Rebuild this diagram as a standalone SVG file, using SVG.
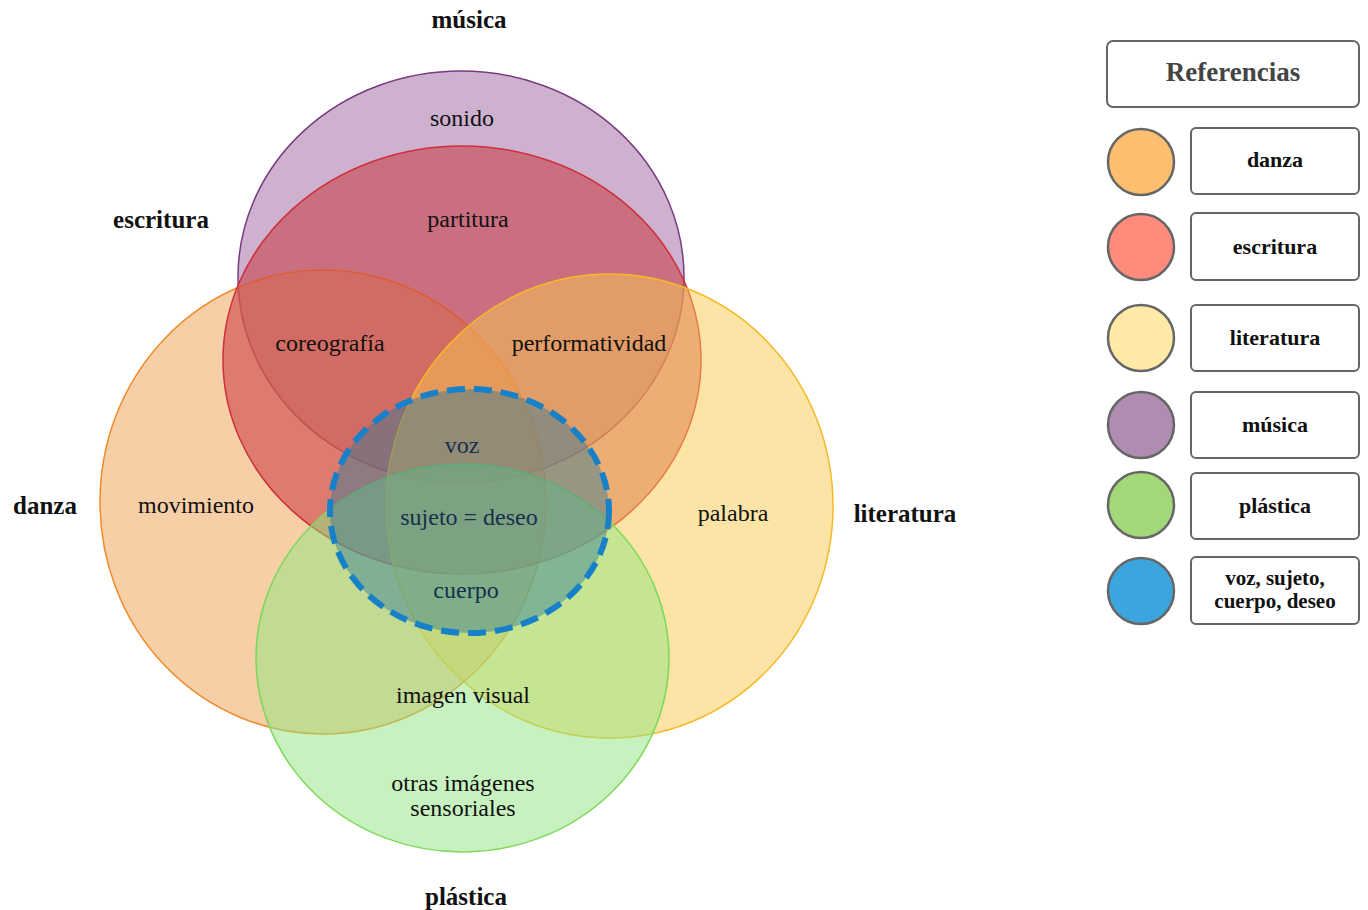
<svg xmlns="http://www.w3.org/2000/svg" width="1368" height="910" viewBox="0 0 1368 910">
<style>
.t{font-family:"Liberation Serif",serif;font-size:24px;fill:#111;text-anchor:middle;dominant-baseline:central}
.b{font-family:"Liberation Serif",serif;font-size:25px;font-weight:bold;fill:#111;text-anchor:middle;dominant-baseline:central}
.in{fill:#16304e}
.lg{font-family:"Liberation Serif",serif;font-size:22px;font-weight:bold;fill:#111;text-anchor:middle;dominant-baseline:central}
.box{fill:#fff;stroke:#666;stroke-width:2}
.dot{stroke:#666;stroke-width:2.5}
.e{stroke-width:1.5}
</style>
<rect width="1368" height="910" fill="#fff"/>
<g id="musica">
<ellipse class="e" cx="461" cy="277" rx="223" ry="206" fill="#9c64a0" fill-opacity="0.5" stroke="#7a3a82"/>
</g>
<g id="danza">
<ellipse class="e" cx="323" cy="502" rx="223" ry="232" fill="#f0a050" fill-opacity="0.5" stroke="#f08a2a"/>
</g>
<g id="escritura">
<ellipse class="e" cx="462" cy="360" rx="239" ry="214" fill="#c9383f" fill-opacity="0.55" stroke="#d02f3a"/>
</g>
<g id="literatura">
<ellipse class="e" cx="609.5" cy="506" rx="223.5" ry="232" fill="#fac950" fill-opacity="0.5" stroke="#f7b928"/>
</g>
<g id="plastica">
<ellipse class="e" cx="462.5" cy="658" rx="206.5" ry="194" fill="#90e580" fill-opacity="0.5" stroke="#7ed85a"/>
</g>
<g id="nucleo">
<ellipse cx="469.5" cy="511" rx="139.5" ry="122" fill="#2f7a96" fill-opacity="0.45" stroke="#1680c8" stroke-width="6" stroke-dasharray="18 9"/>
</g>
<g id="textos">
<text class="b" x="469" y="19">música</text>
<text class="t" x="462" y="118">sonido</text>
<text class="b" x="161" y="219">escritura</text>
<text class="t" x="468" y="219">partitura</text>
<text class="t" x="330" y="343">coreografía</text>
<text class="t" x="589" y="343">performatividad</text>
<text class="t in" x="462" y="445">voz</text>
<text class="b" x="45" y="505">danza</text>
<text class="t" x="196" y="505">movimiento</text>
<text class="t in" x="469" y="517">sujeto = deseo</text>
<text class="t" x="733" y="513">palabra</text>
<text class="b" x="905" y="513">literatura</text>
<text class="t in" x="466" y="590">cuerpo</text>
<text class="t" x="463" y="695">imagen visual</text>
<text class="t" x="463" y="783">otras imágenes</text>
<text class="t" x="463" y="808">sensoriales</text>
<text class="b" x="466" y="896">plástica</text>
</g>
<g id="leyenda">
<rect class="box" x="1107" y="41" width="252" height="66" rx="6"/>
<text class="lg" x="1233" y="72" style="font-size:27px;fill:#444">Referencias</text>
<circle class="dot" cx="1141" cy="162" r="33" fill="#fdbf6f"/>
<rect class="box" x="1191" y="128" width="168" height="66" rx="5"/>
<text class="lg" x="1275" y="159">danza</text>
<circle class="dot" cx="1141" cy="247" r="33" fill="#fe8b7b"/>
<rect class="box" x="1191" y="213" width="168" height="67" rx="5"/>
<text class="lg" x="1275" y="246">escritura</text>
<circle class="dot" cx="1141" cy="338" r="33" fill="#ffe9a6"/>
<rect class="box" x="1191" y="305" width="168" height="66" rx="5"/>
<text class="lg" x="1275" y="337">literatura</text>
<circle class="dot" cx="1141" cy="425" r="33" fill="#b08db0"/>
<rect class="box" x="1191" y="392" width="168" height="66" rx="5"/>
<text class="lg" x="1275" y="424">música</text>
<circle class="dot" cx="1141" cy="505" r="33" fill="#a3d878"/>
<rect class="box" x="1191" y="473" width="168" height="66" rx="5"/>
<text class="lg" x="1275" y="505">plástica</text>
<circle class="dot" cx="1141" cy="591" r="33" fill="#3ba5de"/>
<rect class="box" x="1191" y="557" width="168" height="67" rx="5"/>
<text class="lg" x="1275" y="578" style="font-size:21px">voz, sujeto,</text>
<text class="lg" x="1275" y="601" style="font-size:21px">cuerpo, deseo</text>
</g>
</svg>
